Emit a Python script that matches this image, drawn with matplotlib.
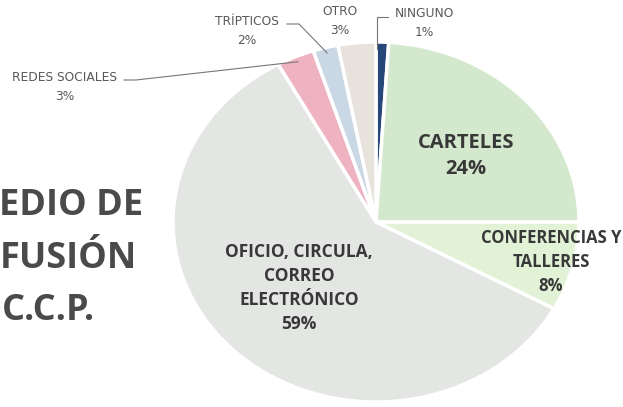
import numpy as np
import matplotlib.pyplot as plt

# datos
categorias = ['NINGUNO', 'CARTELES', 'CONFERENCIAS Y\nTALLERES', 'OFICIO, CIRCULA,\nCORREO\nELECTRÓNICO',
              'REDES SOCIALES', 'TRÍPTICOS', 'OTRO']
porcentajes = [1, 24, 8, 59, 3, 2, 3]
colores = ['#27467a', '#d4e8ce', '#e2f2d6', '#e4e6e4', '#eeb2c1', '#c9d8e4', '#e7e3dc']
titulo = ['EDIO DE', 'FUSIÓN', 'C.C.P.']   # lo que se ve del titulo (cortado a la izquierda)

W, H = 623, 407
CX, CY, RX, RY = 376, 222, 203, 180   # centro y radios del pastel (px)


def dx(x):
    return (x - CX) / RX


def dy(y):
    return (CY - y) / RY


fig = plt.figure(figsize=(W / 100, H / 100), dpi=100)
ax = fig.add_axes([(CX - RX) / W, (H - CY - RY) / H, 2 * RX / W, 2 * RY / H])

wedges, _ = ax.pie(porcentajes, colors=colores, startangle=90, counterclock=False,
                   wedgeprops=dict(edgecolor='white', linewidth=2.5))
ax.set_aspect('auto')
ax.set_xlim(-1, 1)
ax.set_ylim(-1, 1)

fuente = 'Open Sans'
oscuro = '#383838'

# etiquetas dentro: x, y, tamaño, interlineado
dentro = {1: (466, 156, 14.5, 1.35), 2: (551, 262, 12, 1.4), 3: (299, 288, 12.5, 1.45)}
for i, (x, y, fs, ls) in dentro.items():
    ax.text(dx(x), dy(y), f'{categorias[i]}\n{porcentajes[i]}%', ha='center', va='center',
            fontsize=fs, fontweight='bold', color=oscuro, family=fuente, linespacing=ls)

# etiquetas fuera con lineas guia
fuera = {4: (65, 87), 5: (247, 31), 6: (340, 21), 0: (424, 23)}
for i, (x, y) in fuera.items():
    ax.text(dx(x), dy(y), f'{categorias[i]}\n{porcentajes[i]}%', ha='center', va='center',
            fontsize=8.8, color='#585858', family='DejaVu Sans', linespacing=1.6, clip_on=False)

# angulo medio de cada porcion
acum = np.cumsum([0] + porcentajes)
medio = [90 - 3.6 * (acum[k] + porcentajes[k] / 2) for k in range(len(porcentajes))]


def guia(i, x0, x1, y0, r=0.97):
    a = np.radians(medio[i])
    ax.plot([dx(x0), dx(x1), r * np.cos(a)], [dy(y0), dy(y0), r * np.sin(a)],
            color='#777777', lw=0.8, clip_on=False)


guia(4, 124, 136, 80)
guia(5, 287, 299, 24)
ax.plot([dx(388), dx(377), dx(377)], [dy(17), dy(17), 0.96], color='#777777', lw=0.8, clip_on=False)

# titulo
for texto, (xr, yb) in zip(titulo, [(143, 215), (137, 268), (95, 320)]):
    fig.text(xr / W, 1 - yb / H, texto, ha='right', va='baseline', fontsize=26,
             fontweight='bold', color='#4a4a4a', family=fuente)

fig.savefig('out.png', dpi=100)
